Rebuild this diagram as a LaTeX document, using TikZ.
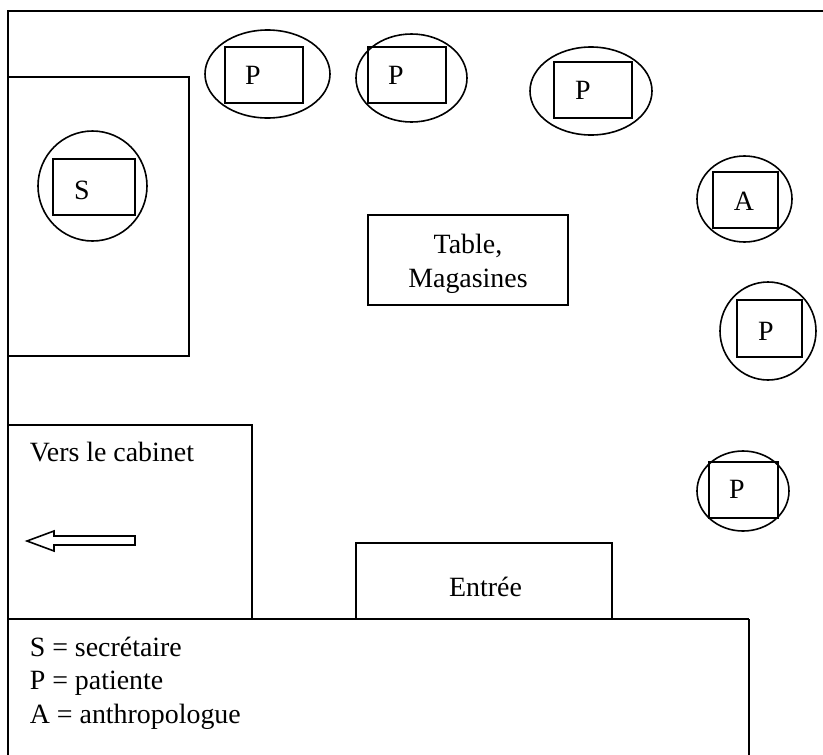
\documentclass[tikz,border=0pt]{standalone}
\usepackage{fontspec}
\setmainfont{Liberation Serif}
\usetikzlibrary{shapes.geometric}
\begin{document}
\begin{tikzpicture}[
  x = 1pt, y = -1pt,
  line width = 1.6,
  libelle/.style = {inner sep = 0, font = \fontsize{27.9}{33.5}\selectfont},
  siege/.style = {draw, ellipse, inner sep = 0},
  chaise/.style = {draw, rectangle, inner sep = 0}
]
\useasboundingbox (0, 0) rectangle (823, 755);
% murs
\draw[line width = 2.2] (8, 755) -- (8, 11) -- (823, 11);
\draw (8, 77) -- (189, 77) -- (189, 356) -- (8, 356);
\draw (8, 425) -- (252, 425) -- (252, 619);
\draw (356, 619) -- (356, 543) -- (612, 543) -- (612, 619);
\draw (8, 619) -- (749, 619);
\draw[line width = 2.2] (749, 619) -- (749, 755);
% sieges : centre, taille du cercle, centre, taille du carre
\foreach \n/\cx/\cy/\cw/\ch/\rx/\ry/\rw/\rh in {
  pa/267.5/74/125/88/264/75/78/56,
  pb/411.5/78/111/88/407/75/78/56,
  pc/591/91/122/88/593/90/78/56,
  as/744.5/199/95/86/745.5/200/65/56,
  pd/768/331/96/98/769.5/328.5/65/57,
  pe/743/491/92/80/743.5/490/69/56,
  se/92.5/186/109/110/94/187/82/56
}{
  \node[siege, minimum width = \cw, minimum height = \ch] (cercle\n) at (\cx, \cy) {};
  \node[chaise, minimum width = \rw, minimum height = \rh] (carre\n) at (\rx, \ry) {};
}
\foreach \n/\t/\x/\y in {pa/P/253/75, pb/P/396/75, pc/P/583/90, as/A/744/201, pd/P/766/331,
  pe/P/737/489, se/S/82/190}{
  \node[libelle] (lettre\n) at (\x, \y) {\t};
}
% table et textes
\node[chaise, minimum width = 200, minimum height = 90] (table) at (468, 260) {};
\node[libelle, align = center] (magasines) at (468, 264) {Table,\\Magasines};
\node[libelle] (entree) at (485.5, 587) {Entrée};
\node[libelle, anchor = west] (cabinet) at (29, 452) {Vers le cabinet};
\node[libelle, anchor = west, align = left] (legende) at (29, 683)
  {S = secrétaire\\P = patiente\\A = anthropologue};
% fleche
\draw (27, 541) -- (54, 531) -- (54, 536) -- (135, 536) -- (135, 545) -- (54, 545) -- (54, 551) -- cycle;
\end{tikzpicture}
\end{document}
